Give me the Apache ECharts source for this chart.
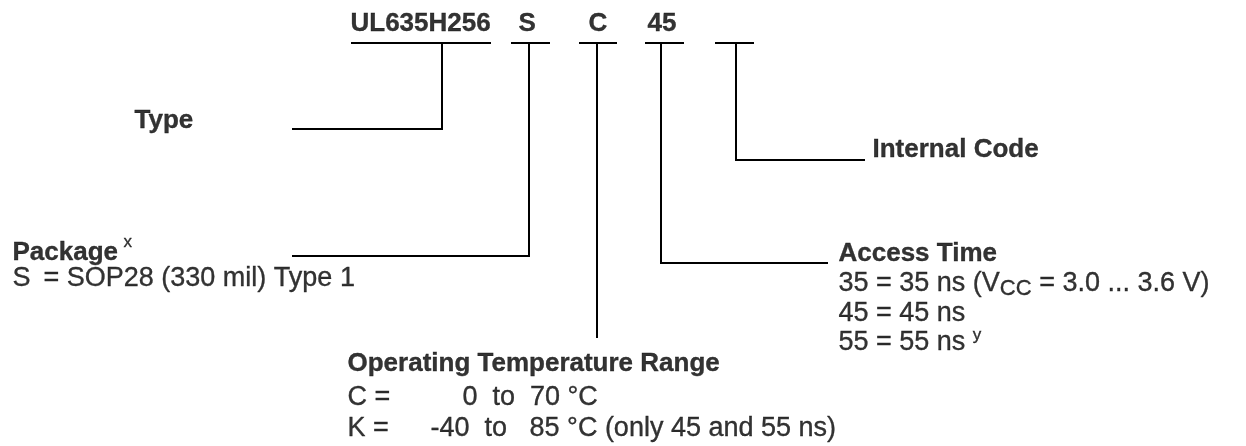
<!DOCTYPE html>
<html><head><meta charset="utf-8">
<script src="https://cdn.jsdelivr.net/npm/echarts@6/dist/echarts.min.js"></script>
<style>html,body{margin:0;padding:0;background:#fff}#c{width:1246px;height:446px}</style>
</head><body><div id="c"></div>
<script>
// ---- content (values) ----
const codeParts = ['UL635H256', 'S', 'C', '45', ''];
const fieldTitles = ['Type', 'Package', 'Operating Temperature Range', 'Access Time', 'Internal Code'];
const packageNote = 'x';
const packageOptions = ['S', '= SOP28 (330 mil) Type 1'];
const tempCodes = ['C =', 'K ='];
const tempRanges = ['0  to  70 °C', '-40  to   85 °C (only 45 and 55 ns)'];
const accessOptions = ['35 = 35 ns (V{sub|CC} = 3.0 ... 3.6 V)', '45 = 45 ns', '55 = 55 ns {sup|y}'];

// ---- layout (positions in page units, kept apart from content) ----
const W = 1246, H = 446;
const FS_B = 26, FS = 27, FS_SUB = 22, FS_SUP = 17;
const codeX = [350, 518, 588, 647];
const codeBase = 33;
const underlineY = 43;
const underlineSpans = [[351, 491], [511, 550], [579, 617], [645, 684], [715, 754]];
const connectors = [
  [[442, underlineY], [442, 129], [292, 129]],
  [[529, underlineY], [529, 256], [292, 256]],
  [[597, underlineY], [597, 338]],
  [[661, underlineY], [661, 263], [828, 263]],
  [[736, underlineY], [736, 160], [865, 160]]
];
const titlePos = [[134, 130], [12, 262], [347, 373], [838, 263], [872, 159]];
const packageNotePos = [123, 248];
const packageOptPos = [[12, 288], [43, 288]];
const tempCodePos = [[347, 407], [347, 438]];
const tempRangePos = [[462, 407], [430, 438]];
const accessPos = [[838, 293], [838, 323], [838, 352]];

const FONT = '"Liberation Sans", Arial, Helvetica, sans-serif';
const ink = { color: '#000', fontFamily: FONT, textBorderColor: '#000', textBorderWidth: 0.35 };
const richStyles = {
  n: Object.assign({ fontSize: FS, lineHeight: 32 }, ink),
  sub: Object.assign({ fontSize: FS_SUB, lineHeight: 22, verticalAlign: 'bottom' }, ink),
  sup: Object.assign({ fontSize: FS_SUP, lineHeight: 17, verticalAlign: 'top' }, ink)
};

function toRich(text) {
  return text.split(/(\{[a-z]+\|[^}]*\})/).filter(s => s.length)
    .map(s => s[0] === '{' ? s : '{n|' + s + '}').join('');
}

function textItem(x, base, text, bold, size) {
  size = size || (bold ? FS_B : FS);
  const hasRich = text.indexOf('{') >= 0;
  return {
    value: [x, base - 0.35 * size],
    label: Object.assign({
      show: true, position: 'right', distance: 0, align: 'left', verticalAlign: 'middle',
      formatter: hasRich ? toRich(text) : text, fontSize: size,
      fontWeight: bold ? 'bold' : 'normal', lineHeight: hasRich ? 32 : size,
      rich: hasRich ? richStyles : undefined
    }, ink)
  };
}

const texts = [];
codeParts.forEach((c, i) => { if (c) texts.push(textItem(codeX[i], codeBase, c, true)); });
fieldTitles.forEach((t, i) => texts.push(textItem(titlePos[i][0], titlePos[i][1], t, true)));
texts.push(textItem(packageNotePos[0], packageNotePos[1], packageNote, false, FS_SUP));
packageOptions.forEach((t, i) => texts.push(textItem(packageOptPos[i][0], packageOptPos[i][1], t, false)));
tempCodes.forEach((t, i) => texts.push(textItem(tempCodePos[i][0], tempCodePos[i][1], t, false)));
tempRanges.forEach((t, i) => texts.push(textItem(tempRangePos[i][0], tempRangePos[i][1], t, false)));
accessOptions.forEach((t, i) => texts.push(textItem(accessPos[i][0], accessPos[i][1], t, false)));

const lineStyle = { color: '#000', width: 2, cap: 'butt', join: 'miter' };
const series = [];
underlineSpans.forEach(s => series.push({
  type: 'line', data: [[s[0], underlineY], [s[1], underlineY]], symbol: 'none',
  lineStyle, silent: true, animation: false
}));
connectors.forEach(pts => series.push({
  type: 'line', data: pts, symbol: 'none', lineStyle, silent: true, animation: false
}));
series.push({
  type: 'scatter', data: texts, symbolSize: 1, itemStyle: { color: 'rgba(0,0,0,0)' },
  silent: true, animation: false
});

const chart = echarts.init(document.getElementById('c'), null, { renderer: 'canvas' });
chart.setOption({
  backgroundColor: '#fff',
  animation: false,
  grid: { left: 0, right: 0, top: 0, bottom: 0 },
  xAxis: { type: 'value', min: 0, max: W, show: false },
  yAxis: { type: 'value', min: 0, max: H, inverse: true, show: false },
  series
});
</script></body></html>
